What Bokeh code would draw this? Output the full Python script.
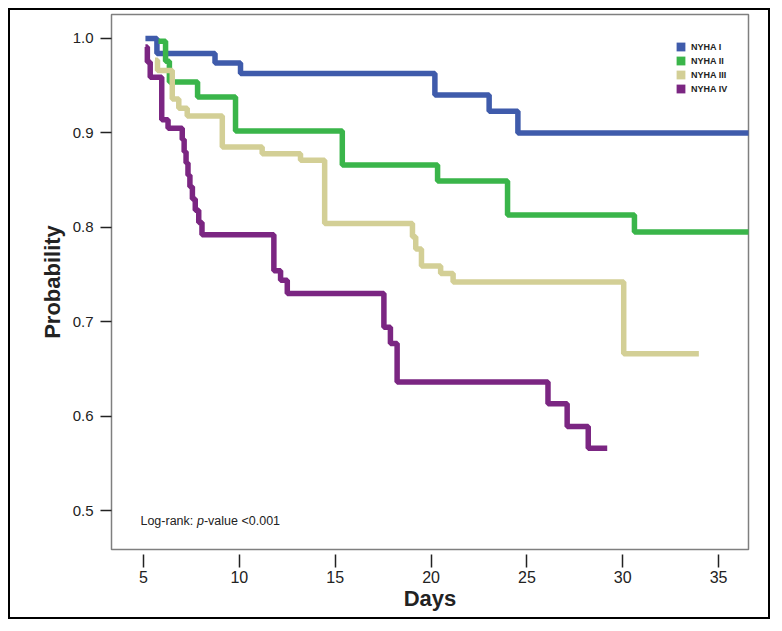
from bokeh.plotting import figure
from bokeh.models import Range1d, FixedTicker, Legend, LegendItem, Label
from bokeh.embed import file_html
from bokeh.resources import INLINE

# ---------------- data ----------------
groups = ["NYHA I", "NYHA II", "NYHA III", "NYHA IV"]
colors = ["#3f5bab", "#3ab54a", "#d3cf96", "#7b2682"]

nyha1_days = [5.10, 5.70, 8.73, 10.06, 20.20, 23.03, 24.53, 36.6]
nyha1_surv = [1.000, 0.984, 0.974, 0.963, 0.940, 0.923, 0.900, 0.900]

nyha2_days = [5.78, 6.15, 6.35, 7.82, 9.80, 15.37, 20.34, 23.99, 30.61, 36.6]
nyha2_surv = [0.997, 0.976, 0.954, 0.938, 0.902, 0.866, 0.849, 0.813, 0.795, 0.795]

nyha3_days = [5.60, 5.73, 6.50, 6.84, 7.28, 9.11, 11.19, 13.19, 14.45,
              19.03, 19.20, 19.50, 20.50, 21.15, 30.05, 33.97]
nyha3_surv = [0.977, 0.966, 0.936, 0.926, 0.918, 0.885, 0.878, 0.871, 0.804,
              0.790, 0.777, 0.759, 0.751, 0.742, 0.666, 0.666]

nyha4_days = [5.10, 5.20, 5.35, 5.95, 6.28, 7.02, 7.12, 7.22, 7.32, 7.42, 7.55,
              7.70, 7.88, 8.05, 11.80, 12.15, 12.50, 17.54, 17.88, 18.23,
              26.10, 27.10, 28.20, 29.19]
nyha4_surv = [0.991, 0.975, 0.959, 0.914, 0.905, 0.893, 0.880, 0.868, 0.855,
              0.843, 0.830, 0.818, 0.805, 0.792, 0.754, 0.744, 0.730, 0.694,
              0.677, 0.636, 0.613, 0.589, 0.566, 0.566]

x_ticks = [5, 10, 15, 20, 25, 30, 35]
y_ticks = [0.5, 0.6, 0.7, 0.8, 0.9, 1.0]
y_tick_labels = ["0.5", "0.6", "0.7", "0.8", "0.9", "1.0"]

x_title = "Days"
y_title = "Probability"
annotation_text = ["Log-rank:", "p", "-value <0.001"]

# ---------------- figure ----------------
FONT = "Liberation Sans"

p = figure(width=762, height=611, output_backend="svg", toolbar_location=None,
           x_range=Range1d(3.33, 36.56), y_range=Range1d(0.4587, 1.0254),
           min_border_left=101, min_border_right=24, min_border_top=4,
           min_border_bottom=72)
p.styles = {"border": "2px solid black", "margin-left": "8px", "margin-top": "8px"}
p.background_fill_color = "white"
p.border_fill_color = "white"
p.outline_line_color = "#7f7f7f"
p.outline_line_width = 1.5
p.xgrid.visible = False
p.ygrid.visible = False

# axes
xa = p.xaxis[0]
xa.ticker = FixedTicker(ticks=x_ticks)
xa.axis_line_color = None
xa.major_tick_in = -5
xa.major_tick_out = 18
xa.major_tick_line_color = "#222222"
xa.major_tick_line_width = 1.5
xa.minor_tick_line_color = None
xa.major_label_text_font = FONT
xa.major_label_text_font_size = "16px"
xa.major_label_text_color = "#222222"
xa.major_label_standoff = 3
xa.axis_label = x_title
xa.axis_label_text_font = FONT
xa.axis_label_text_font_size = "22px"
xa.axis_label_text_font_style = "bold"
xa.axis_label_text_color = "#222222"
xa.axis_label_standoff = 0

ya = p.yaxis[0]
ya.ticker = FixedTicker(ticks=y_ticks)
ya.major_label_overrides = {t: l for t, l in zip(y_ticks, y_tick_labels)}
ya.axis_line_color = None
ya.major_tick_in = 0
ya.major_tick_out = 11
ya.major_tick_line_color = "#222222"
ya.major_tick_line_width = 1.5
ya.minor_tick_line_color = None
ya.major_label_text_font = FONT
ya.major_label_text_font_size = "15px"
ya.major_label_text_color = "#222222"
ya.major_label_standoff = 7
ya.axis_label = y_title
ya.axis_label_text_font = FONT
ya.axis_label_text_font_size = "22px"
ya.axis_label_text_font_style = "bold"
ya.axis_label_text_color = "#222222"
ya.axis_label_standoff = 5

# curves
series = [(nyha1_days, nyha1_surv), (nyha2_days, nyha2_surv),
          (nyha3_days, nyha3_surv), (nyha4_days, nyha4_surv)]
for (d, s), c in zip(series, colors):
    p.step(d, s, mode="after", line_color=c, line_width=5.5)

# legend with square swatches (swatch-only renderers with no visible data)
nan = float("nan")
items = []
for g, c in zip(groups, colors):
    r = p.quad(left=[nan], right=[nan], top=[nan], bottom=[nan],
               fill_color=c, line_color=None)
    items.append(LegendItem(label=g, renderers=[r]))
legend = Legend(items=items, location=(564, 455), orientation="vertical",
                glyph_width=11, glyph_height=11, label_height=11,
                spacing=3, padding=0, margin=0, label_standoff=5,
                border_line_color=None, background_fill_alpha=0,
                label_text_font=FONT, label_text_font_size="9px",
                label_text_font_style="bold", label_text_color="#222222")
p.add_layout(legend)

# log-rank annotation
ax, ay = 4.84, 0.4885
p.add_layout(Label(x=ax, y=ay, text=annotation_text[0], text_font=FONT,
                   text_font_size="12.5px", text_baseline="middle",
                   text_color="#222222"))
p.add_layout(Label(x=ax, y=ay, x_offset=56.5, text=annotation_text[1], text_font=FONT,
                   text_font_size="12.5px", text_font_style="italic",
                   text_baseline="middle", text_color="#222222"))
p.add_layout(Label(x=ax, y=ay, x_offset=63.5, text=annotation_text[2], text_font=FONT,
                   text_font_size="12.5px", text_baseline="middle",
                   text_color="#222222"))

open("out.html", "w").write(file_html(p, INLINE))
